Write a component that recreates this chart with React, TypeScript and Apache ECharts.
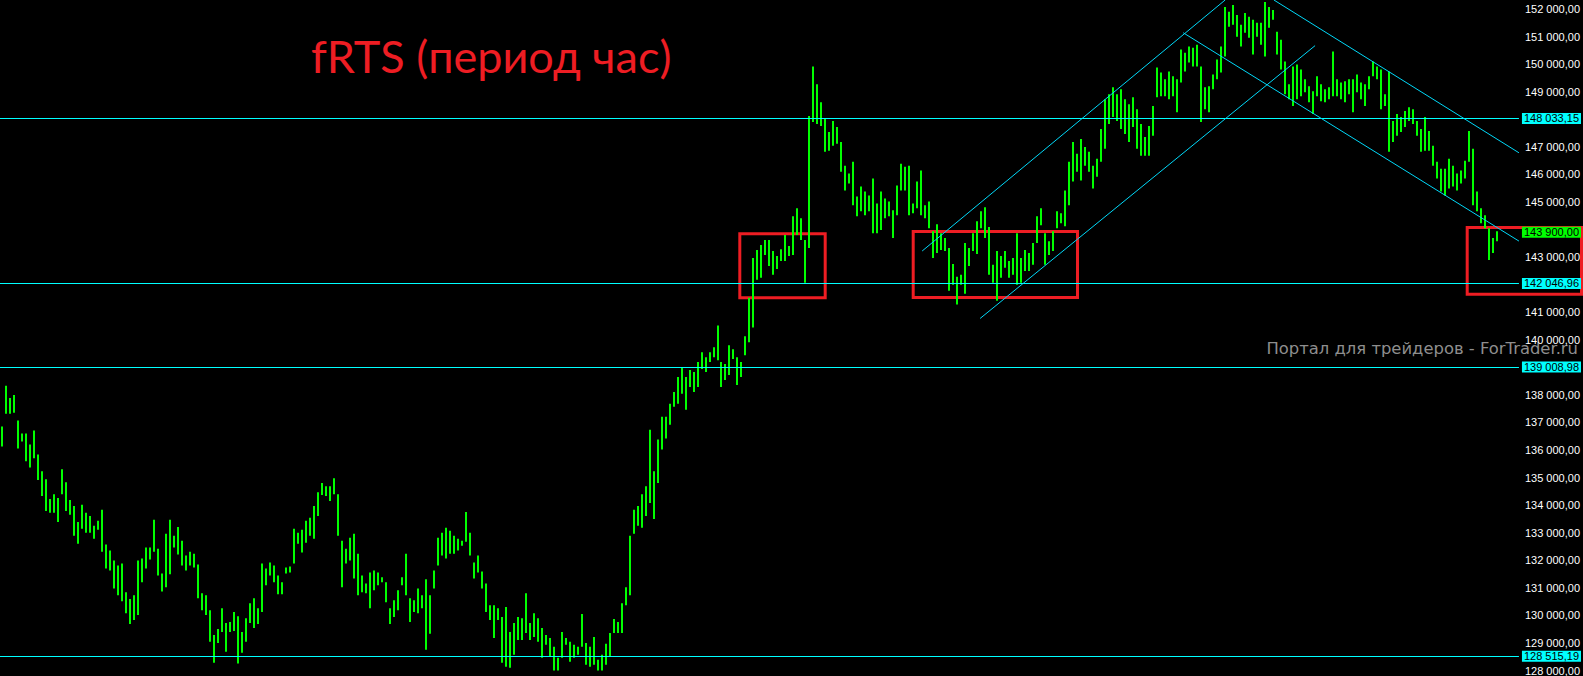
import React, { useEffect, useRef } from "react";
import * as echarts from "echarts";

// Hourly bars of fRTS: highs and lows (one entry per bar)
const highs = [
  136850, 138330, 137890, 138000, 137070, 136600, 136600, 136200, 136710, 135840,
  135230, 134940, 134220, 134400, 134260, 135300, 134830, 134190, 133970, 133390,
  134010, 133720, 133610, 133250, 133430, 133830, 132570, 132350, 131990, 131810,
  131880, 130840, 130590, 130730, 131990, 132060, 132460, 132460, 133470, 132420,
  131520, 132960, 133470, 132890, 133210, 132710, 132170, 132310, 132240, 131850,
  130800, 130730, 130190, 129290, 129510, 130260, 129720, 129760, 130120, 129970,
  129400, 129900, 130440, 130620, 130260, 131880, 131700, 131920, 131810, 131450,
  131200, 131740, 131770, 133140, 133000, 133110, 133430, 133540, 133970, 134470,
  134800, 134690, 134690, 134980, 134400, 132710, 132420, 132820, 132960, 132240,
  131450, 131160, 131560, 131630, 131560, 131380, 131200, 130260, 130550, 130910,
  131380, 132240, 130620, 130550, 130980, 130730, 131310, 130730, 131630, 132820,
  133000, 133180, 133070, 132890, 132780, 132710, 133750, 133000, 131920, 132170,
  131590, 131160, 130370, 130370, 130260, 129940, 130300, 129400, 129720, 129940,
  129900, 130800, 129720, 130080, 129900, 129540, 129290, 129180, 128860, 128460,
  129400, 129180, 129040, 128930, 128860, 130050, 129000, 128860, 129220, 128390,
  128570, 128970, 129360, 129870, 129760, 130440, 131020, 132890, 133830, 133970,
  134400, 134690, 136740, 135230, 136380, 137210, 137210, 137680, 138110, 138650,
  139010, 138650, 138900, 138830, 139190, 139550, 139370, 139550, 139730, 140520,
  139190, 139120, 139800, 139660, 139370, 139190, 140130, 141530, 142970, 143260,
  143440, 143620, 143620, 143220, 143040, 143290, 143800, 143400, 144480, 144770,
  144410, 143620, 148120, 149920, 149270, 148620, 148010, 147540, 147940, 147720,
  147180, 146320, 146030, 146460, 145200, 145560, 145380, 145240, 145850, 144950,
  145380, 145130, 145020, 144700, 145600, 146390, 146280, 146320, 144950, 145740,
  146140, 144880, 145020, 143940, 144190, 143870, 143690, 143330, 142750, 142290,
  142360, 143510, 143330, 143870, 144300, 144660, 144810, 144090, 142720, 143220,
  143040, 143220, 142860, 142970, 143870, 142970, 143260, 143150, 143510, 144480,
  144770, 143870, 143580, 143940, 144660, 144590, 145420, 146460, 147180, 146750,
  147290, 147000, 146820, 146320, 146570, 147650, 148730, 148910, 149160, 148910,
  149090, 148730, 148550, 148800, 148370, 147830, 147360, 147760, 148480, 149880,
  149700, 149450, 149740, 149560, 149450, 150530, 150420, 150640, 150600, 150710,
  149920, 149160, 149200, 149630, 150170, 150640, 152080, 151900, 152150, 151790,
  151430, 151860, 151720, 151610, 151500, 151500, 152260, 152080, 151970, 151180,
  150890, 150100, 149270, 149920, 149990, 149810, 149450, 149200, 149020, 149560,
  149270, 149090, 149160, 150460, 149450, 149340, 149380, 149450, 149450, 149630,
  149340, 149270, 149560, 150100, 149920, 149810, 148910, 149740, 147940, 148190,
  148080, 148300, 148440, 148370, 147940, 147650, 148080, 147580, 147040, 146460,
  146210, 146210, 146570, 146320, 146030, 146140, 146500, 147580, 146930, 145380,
  144770, 144520, 144050, 143690, 143940,
];
const lows = [
  136130, 137320, 137320, 137350, 136060, 136310, 135590, 135370, 135700, 134910,
  134330, 133790, 133720, 133720, 133390, 134400, 133790, 133650, 132890, 132600,
  133140, 133000, 133000, 132780, 133110, 132310, 131700, 131630, 130980, 130730,
  130510, 130080, 129690, 129830, 130010, 131200, 131700, 132030, 132310, 131450,
  130870, 131020, 131490, 132460, 132210, 131810, 131630, 131810, 131740, 130620,
  130190, 130010, 129040, 128280, 129000, 129400, 128680, 129400, 129430, 128250,
  128640, 129040, 129720, 129540, 129690, 130120, 131090, 131450, 131200, 130770,
  130770, 131520, 131560, 131880, 132600, 132280, 132640, 132890, 132780, 133610,
  134370, 134330, 134150, 134400, 132890, 131020, 131880, 131990, 131340, 130730,
  130840, 130800, 130260, 130910, 131090, 131200, 130480, 129690, 129940, 130190,
  131090, 130730, 129760, 130120, 130080, 130260, 128750, 129330, 130980, 131810,
  132170, 132060, 132240, 132240, 132350, 132530, 132670, 132170, 131340, 131560,
  130980, 130120, 129830, 129180, 129830, 128280, 128140, 128100, 128570, 129110,
  129110, 129360, 129110, 129220, 129040, 128460, 128930, 128500, 127850, 127670,
  128460, 128930, 128320, 128460, 128570, 128860, 128210, 128140, 128210, 127670,
  127670, 128210, 128500, 129360, 129360, 129360, 130370, 130730, 132960, 133250,
  133180, 133610, 134080, 133500, 134800, 136020, 136420, 136920, 137570, 137680,
  138040, 137460, 138290, 138110, 138290, 138940, 138830, 139190, 139370, 139260,
  138290, 138540, 138720, 139300, 138360, 138650, 139440, 139910, 140450, 142180,
  142250, 143080, 142680, 142360, 142570, 142860, 142860, 143040, 143080, 143800,
  143620, 142070, 143330, 147900, 147830, 147760, 146820, 146860, 147040, 147110,
  146100, 145420, 145670, 144880, 144480, 144660, 144520, 144660, 143870, 143870,
  143980, 144410, 144480, 143690, 144520, 145420, 145420, 144520, 144590, 144770,
  144520, 144410, 144050, 142970, 143150, 143260, 143220, 141780, 142000, 141280,
  142000, 141670, 142680, 143220, 143110, 144050, 143690, 142360, 142070, 141420,
  142250, 142610, 142250, 142360, 142000, 142070, 142500, 142500, 142720, 143510,
  144160, 142720, 143080, 143220, 144050, 144230, 144120, 144880, 145740, 146100,
  145780, 146320, 146100, 145490, 145920, 146460, 146930, 147830, 148080, 147940,
  147650, 147470, 147180, 147720, 146930, 146680, 146680, 146680, 147400, 148800,
  148840, 148840, 148730, 148840, 148260, 149340, 149740, 150060, 149920, 149920,
  147900, 148370, 148260, 149090, 149450, 149700, 150280, 151360, 151430, 151000,
  150640, 151140, 150960, 150350, 151000, 150710, 150280, 151320, 151610, 150350,
  149810, 148910, 148730, 148480, 148730, 148840, 148980, 148620, 148190, 148840,
  148660, 148620, 148730, 148840, 148840, 148730, 148620, 148910, 148260, 148980,
  148730, 148480, 149090, 149560, 149450, 148370, 148480, 146820, 147180, 147400,
  147540, 147720, 147940, 147830, 147400, 146820, 146860, 146860, 146320, 145850,
  145380, 145240, 145490, 145560, 145420, 145670, 145850, 146460, 144880, 144660,
  144230, 144050, 142900, 143150, 143580,
];
const slots = 380; // hourly slots across the visible window (last ones empty)

// Horizontal levels and last price
const levels = [148033.15, 142046.96, 139008.98, 128515.19];
const lastPrice = 143900;

// Channel lines: [hour slot, price] endpoints
const channels = [
  [[230.7, 143222], [306.5, 152330]],
  [[245.2, 140774], [329.0, 150674]],
  [[296.0, 151142], [380.0, 143582]],
  [[318.7, 152330], [380.0, 146786]],
];

function fmt(v: number): string {
  const [i, d] = v.toFixed(2).split(".");
  return i.replace(/\B(?=(\d{3})+(?!\d))/g, " ") + "," + d;
}

const marked = [...levels, lastPrice];

export default function App() {
  const ref = useRef<HTMLDivElement>(null);
  useEffect(() => {
    if (!ref.current) return;
    const chart = echarts.init(ref.current, undefined, { renderer: "svg" });
    const bars = highs.map((h, i) => [i + 0.5, lows[i], h]);
    const labelBase = {
      show: true,
      position: "end",
      distance: 3,
      color: "#000",
      fontSize: 11,
      fontFamily: "Liberation Sans",
      lineHeight: 11,
      padding: [0, 2, 0, 2],
    };
    chart.setOption({
      animation: false,
      backgroundColor: "#000",
      grid: { left: 0, right: 64, top: 0, bottom: 0 },
      xAxis: { type: "value", min: 0, max: slots, show: false },
      yAxis: {
        type: "value",
        position: "right",
        min: 128000,
        max: 152330,
        interval: 1000,
        axisLine: { show: false },
        axisTick: { show: false },
        splitLine: { show: false },
        axisLabel: {
          color: "#FFFFFF",
          fontSize: 11,
          fontFamily: "Liberation Sans",
          margin: 6,
          formatter: (v: number) =>
            Math.abs(v % 1000) < 1e-6 && !marked.some((m) => Math.abs(m - v) < 300) ? fmt(v) : "",
        },
      },
      graphic: [
        {
          type: "text",
          left: 311,
          top: 33,
          style: {
            text: "fRTS (период час)",
            font: "45px Lato",
            fill: "#EE1D23",
          },
        },
        {
          type: "text",
          right: 5,
          top: 340,
          style: {
            text: "Портал для трейдеров - ForTrader.ru",
            font: "16.4px 'DejaVu Sans'",
            fill: "#8E8E8E",
          },
        },
        {
          type: "rect",
          shape: { x: 739.8, y: 233.8, width: 85.4, height: 64 },
          style: { fill: "none", stroke: "#EE1D23", lineWidth: 3 },
        },
        {
          type: "rect",
          shape: { x: 913.2, y: 231.5, width: 164.3, height: 66 },
          style: { fill: "none", stroke: "#EE1D23", lineWidth: 3 },
        },
        {
          type: "rect",
          shape: { x: 1467.2, y: 227.5, width: 114.3, height: 66.7 },
          style: { fill: "none", stroke: "#EE1D23", lineWidth: 3 },
        },
      ],
      series: [
        {
          type: "custom",
          clip: true,
          data: bars,
          renderItem: (_p: any, api: any) => {
            const x = api.value(0);
            const lo = api.coord([x, api.value(1)]);
            const hi = api.coord([x, api.value(2)]);
            return {
              type: "rect",
              shape: {
                x: Math.round(hi[0]) - 1,
                y: hi[1],
                width: 2,
                height: Math.max(1, lo[1] - hi[1]),
              },
              style: { fill: "#00FF00" },
            };
          },
          markLine: {
            silent: true,
            symbol: ["none", "none"],
            animation: false,
            data: [
              ...levels.map((v) => ({
                yAxis: v,
                lineStyle: { color: "#00FFFF", width: 1, type: "solid" },
                label: { ...labelBase, formatter: fmt(v), backgroundColor: "#00FFFF" },
              })),
              {
                yAxis: lastPrice,
                lineStyle: { color: "rgba(0,0,0,0)", width: 0 },
                label: { ...labelBase, formatter: fmt(lastPrice), backgroundColor: "#00FF00" },
              },
              ...channels.map((c) => [
                { coord: c[0], lineStyle: { color: "#00D8F8", width: 1, type: "solid" }, label: { show: false } },
                { coord: c[1] },
              ]),
            ],
          },
        },
      ],
    });
    return () => chart.dispose();
  }, []);
  return (
    <div
      ref={ref}
      style={{ position: "fixed", left: 0, top: 0, width: 1583, height: 676, background: "#000" }}
    />
  );
}
